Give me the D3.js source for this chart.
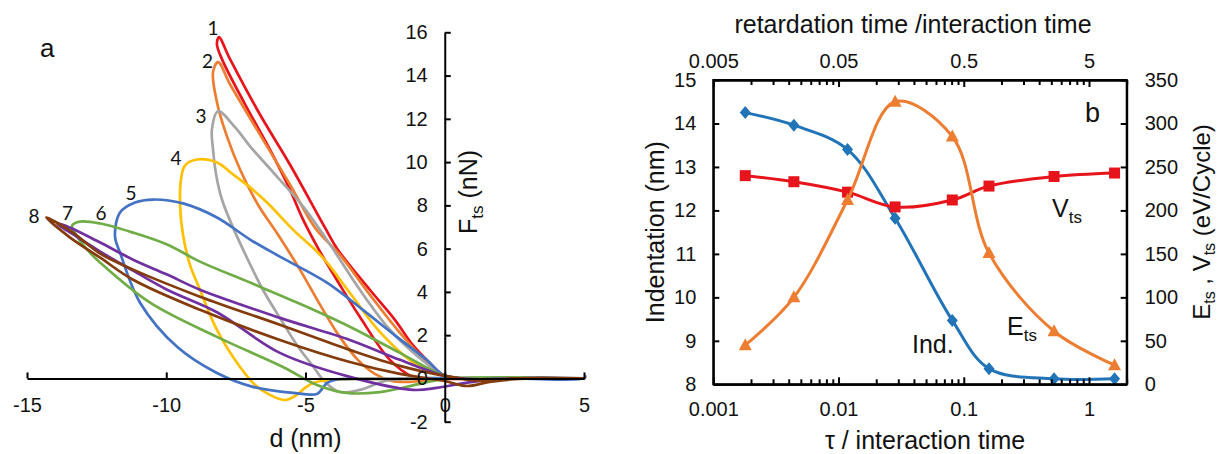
<!DOCTYPE html>
<html>
<head>
<meta charset="utf-8">
<script src="https://cdn.jsdelivr.net/npm/d3@7"></script>
<style>
  body { margin: 0; background: #fff; }
  svg { display: block; }
  text { font-family: "Liberation Sans", Arial, sans-serif; fill: #111; }
  .axis path, .axis line { stroke: #000; stroke-width: 2; }
  .axis text { font-size: 20px; fill: #111; font-family: "Liberation Sans", Arial, sans-serif; }
</style>
</head>
<body>
<svg id="chart" width="1224" height="454"></svg>
<script>
// ---------- Panel a: force vs distance loops, [d (nm), F_ts (nN)] ----------
const loop1 = [[5,0],[2.5,0],[1,-0.03],[0,0.12],[-0.54,0.72],[-1.15,1.55],[-1.79,2.71],[-2.69,4.1],[-3.84,5.95],[-4.3,6.97],[-5.56,9.89],[-6.64,12.21],[-7.71,14.76],[-8.11,15.78],[-8.18,15.45],[-8.0,14.76],[-7.17,12.67],[-6.28,10.59],[-5.56,8.73],[-5.09,7.35],[-4.52,5.95],[-3.77,4.33],[-3.05,2.85],[-1.97,0.86],[-1.15,0.07],[-0.72,-0.07],[0,-0.02],[0.9,-0.02],[5,0]];
const loop2 = [[5,0],[2.5,0],[1,-0.03],[0,0.12],[-0.72,0.86],[-1.61,2.11],[-2.69,3.87],[-3.77,5.72],[-4.66,6.97],[-5.56,8.97],[-6.64,11.28],[-7.71,13.6],[-8.14,14.62],[-8.32,14.16],[-8.18,12.77],[-7.82,11.19],[-7.35,9.66],[-6.71,8.04],[-5.99,6.65],[-5.2,5.03],[-4.48,3.41],[-3.77,1.92],[-3.12,0.86],[-2.51,0.21],[-1.9,-0.12],[-1.26,-0.16],[-0.54,-0.07],[0,-0.02],[0.9,-0.02],[5,0]];
const loop3 = [[5,0],[2.5,0],[1,-0.03],[0,0.12],[-0.9,0.95],[-1.97,2.25],[-3.05,4.1],[-4.12,6.19],[-5.09,7.95],[-6.03,9.34],[-6.99,10.73],[-7.53,11.61],[-8.14,12.35],[-8.36,11.52],[-8.32,10.59],[-8.21,9.43],[-8.0,8.27],[-7.6,6.97],[-7.07,5.49],[-6.53,4.1],[-5.81,2.57],[-5.31,1.55],[-4.77,0.63],[-4.3,-0.16],[-3.77,-0.63],[-3.05,-0.53],[-2.15,-0.12],[-1.08,0.02],[0,0.02],[5,0]];
const loop4 = [[5,0],[2.5,0],[1,-0.03],[0,0.12],[-1.15,0.76],[-2.33,2.15],[-3.41,3.96],[-4.38,5.58],[-5.45,6.88],[-6.38,8.13],[-6.99,8.83],[-7.6,9.43],[-8.18,9.98],[-8.9,10.12],[-9.33,9.84],[-9.47,9.2],[-9.5,7.95],[-9.4,6.65],[-9.15,5.26],[-8.79,4.1],[-8.18,2.25],[-7.35,0.53],[-6.81,-0.3],[-6.28,-0.76],[-5.74,-1.0],[-5.31,-0.76],[-5.02,-0.44],[-4.73,-0.21],[-4.12,-0.07],[-3.05,-0.02],[-1.61,-0.02],[0,0.02],[5,0]];
const loop5 = [[5.05,0.1],[5,0],[2.5,0],[1,-0.03],[0,0.12],[-0.65,0.86],[-1.72,1.92],[-2.94,3.17],[-4.23,4.43],[-5.92,5.63],[-6.99,6.42],[-8.18,7.44],[-9.4,8.09],[-10.47,8.27],[-11.12,8.13],[-11.66,7.67],[-11.84,6.56],[-11.66,5.82],[-10.94,3.5],[-9.61,1.46],[-8.18,0.25],[-6.89,-0.39],[-5.45,-0.67],[-4.59,-0.72],[-4.41,-0.49],[-4.23,-0.21],[-3.95,-0.07],[-3.05,-0.02],[-1.61,-0.02],[0,0.02],[5,0]];
const loop6 = [[5,0],[2.5,0],[1,-0.03],[0,0.12],[-1.61,1.18],[-3.41,2.39],[-5.2,3.45],[-6.99,4.43],[-8.79,5.4],[-9.97,6.19],[-11.19,6.74],[-12.37,7.16],[-13.09,7.25],[-13.38,7.07],[-13.2,6.56],[-12.84,5.95],[-12.37,5.35],[-10.58,3.5],[-8.18,1.92],[-5.81,0.53],[-4.59,-0.3],[-3.52,-0.67],[-2.33,-0.63],[-0.9,-0.25],[0,-0.02],[5,0]];
const loop7 = [[5,0],[2.5,0],[1,-0.03],[0,0.12],[-1.61,0.86],[-3.41,1.78],[-5.92,2.8],[-8.79,4.1],[-9.97,4.8],[-11.19,5.49],[-12.37,6.28],[-13.45,6.97],[-13.92,7.16],[-13.27,6.6],[-12.37,5.86],[-11.19,4.98],[-9.97,4.1],[-8.18,3.06],[-5.92,1.18],[-3.41,0.07],[-1.15,-0.53],[-0.29,-0.44],[0.54,-0.25],[1.61,-0.07],[3.05,0.02],[5,0]];
const loop8 = [[5,0],[2.5,0],[1.2,-0.1],[0,0.12],[-1.61,0.58],[-3.41,1.32],[-5.92,2.48],[-8.79,3.78],[-11.19,5.03],[-12.37,5.77],[-13.45,6.83],[-14.31,7.44],[-13.45,6.51],[-12.37,5.58],[-11.19,4.56],[-8.79,3.17],[-5.92,1.78],[-3.41,0.76],[-1.61,0.21],[0,-0.12],[0.79,-0.35],[1.61,-0.16],[2.69,-0.02],[5,0]];
const loopLabels = ["1", "2", "3", "4", "5", "6", "7", "8"];
const dTicks = [-15, -10, -5, 0, 5];
const fTicks = [-2, 0, 2, 4, 6, 8, 10, 12, 14, 16];

// ---------- Panel b: values vs tau / interaction time ----------
const tauRatio    = [0.0018, 0.0044, 0.0118, 0.0283, 0.081, 0.159, 0.526, 1.6];
const indentation = [14.25, 13.96, 13.4, 11.82, 9.47, 8.36, 8.13, 8.13];
const energyTs    = [45, 100, 212, 325, 285, 151, 61, 22];
const virialTs    = [240, 233, 221, 204, 212, 228, 239, 243];
const tauTicks    = [0.001, 0.01, 0.1, 1];
const retTicks    = [0.005, 0.05, 0.5, 5];
const indTicks    = [8, 9, 10, 11, 12, 13, 14, 15];
const energyTicks = [0, 50, 100, 150, 200, 250, 300, 350];

const svg = d3.select("#chart");
const plain = d => String(d);

// ================= Panel a =================
const loops = [loop1, loop2, loop3, loop4, loop5, loop6, loop7, loop8];
const loopColors = ["#e8141c", "#ed7d31", "#a5a5a5", "#ffc000", "#4472c4", "#70ad47", "#7030a0", "#843c0c"];

const xA = d3.scaleLinear().domain([-15, 5]).range([27, 584]);
const yA = d3.scaleLinear().domain([-2, 16]).range([421.7, 32.3]);

const gA = svg.append("g");

const lineA = d3.line()
  .x(d => xA(d[0]))
  .y(d => yA(d[1]))
  .curve(d3.curveCatmullRom.alpha(0.5));

gA.selectAll("path.loop")
  .data(loops)
  .join("path")
  .attr("class", "loop")
  .attr("d", lineA)
  .attr("fill", "none")
  .attr("stroke", (d, i) => loopColors[i])
  .attr("stroke-width", 2.7)
  .attr("stroke-linejoin", "round")
  .attr("stroke-linecap", "round");

// axes drawn over the loops
gA.append("g").attr("class", "axis")
  .attr("transform", `translate(0,${yA(0)})`)
  .call(d3.axisBottom(xA).tickValues(dTicks).tickSizeInner(-6).tickSizeOuter(0).tickPadding(19).tickFormat(plain));

gA.append("g").attr("class", "axis")
  .attr("transform", `translate(${xA(0)},0)`)
  .call(d3.axisLeft(yA).tickValues(fTicks).tickSizeInner(-6).tickSizeOuter(0).tickPadding(17).tickFormat(plain));

// curve numbers beside each loop
const loopLabelPos = [[213, 35], [207.5, 68], [201, 123], [176, 165], [131, 200], [101, 220], [67.5, 220], [34, 223]];
gA.selectAll("text.num")
  .data(loopLabels)
  .join("text")
  .attr("class", "num")
  .attr("x", (d, i) => loopLabelPos[i][0])
  .attr("y", (d, i) => loopLabelPos[i][1])
  .attr("text-anchor", "middle")
  .style("font-family", "Lato, 'Open Sans', sans-serif")
  .style("font-size", "19px")
  .text(d => d);

gA.append("text").attr("x", 40).attr("y", 57).style("font-size", "26px").text("a");

gA.append("text")
  .attr("x", xA(-5)).attr("y", 447)
  .attr("text-anchor", "middle")
  .style("font-size", "25px")
  .text("d (nm)");

const fLabel = gA.append("text")
  .attr("transform", `translate(477,192) rotate(-90)`)
  .attr("text-anchor", "middle")
  .style("font-size", "25px");
fLabel.append("tspan").text("F");
fLabel.append("tspan").attr("dy", 6).style("font-size", "17px").text("ts");
fLabel.append("tspan").attr("dy", -6).text(" (nN)");

// ================= Panel b =================
const bLeft = 713.3, bRight = 1126.7, bTop = 80, bBottom = 384.3;
const xB = d3.scaleLog().domain([0.001, 2]).range([bLeft, bRight]);
const xTop = d3.scaleLog().domain([0.005, 10]).range([bLeft, bRight]);
const yL = d3.scaleLinear().domain([8, 15]).range([bBottom, bTop]);
const yR = d3.scaleLinear().domain([0, 350]).range([bBottom, bTop]);

const gB = svg.append("g");

function minorTicks(majors, max) {
  const out = [];
  majors.forEach(m => { for (let k = 2; k <= 9; k++) { const v = m * k; if (v <= max * 1.0001) out.push(v); } });
  return out;
}

const rows = tauRatio.map((t, i) => ({ t, ind: indentation[i], e: energyTs[i], v: virialTs[i] }));
const smooth = d3.curveCatmullRom.alpha(0.5);

const series = [
  { key: "ind", color: "#2274b8", y: yL, marker: "diamond" },
  { key: "v",   color: "#e8141c", y: yR, marker: "square" },
  { key: "e",   color: "#ed7d31", y: yR, marker: "triangle" }
];

series.forEach(s => {
  gB.append("path")
    .datum(rows)
    .attr("d", d3.line().x(d => xB(d.t)).y(d => s.y(d[s.key])).curve(smooth))
    .attr("fill", "none")
    .attr("stroke", s.color)
    .attr("stroke-width", 3);

  const sym = s.marker === "diamond" ? "M0,-6.5L5.5,0L0,6.5L-5.5,0Z"
            : s.marker === "square" ? "M-5.5,-5.5H5.5V5.5H-5.5Z"
            : "M0,-7L6.5,5L-6.5,5Z";
  gB.selectAll(null)
    .data(rows)
    .join("path")
    .attr("transform", d => `translate(${xB(d.t)},${s.y(d[s.key])})`)
    .attr("d", sym)
    .attr("fill", s.color);
});

// minor log ticks (no labels)
gB.append("g").attr("class", "axis")
  .attr("transform", `translate(0,${bBottom})`)
  .call(d3.axisBottom(xB).tickValues(minorTicks(tauTicks, 2)).tickSizeInner(-5).tickSizeOuter(0).tickFormat(""));
gB.append("g").attr("class", "axis")
  .attr("transform", `translate(0,${bTop})`)
  .call(d3.axisTop(xTop).tickValues(minorTicks(retTicks, 10)).tickSizeInner(-5).tickSizeOuter(0).tickFormat(""));

// major ticks with labels
gB.append("g").attr("class", "axis")
  .attr("transform", `translate(0,${bBottom})`)
  .call(d3.axisBottom(xB).tickValues(tauTicks).tickSizeInner(-7).tickSizeOuter(0).tickPadding(18).tickFormat(plain));
gB.append("g").attr("class", "axis")
  .attr("transform", `translate(0,${bTop})`)
  .call(d3.axisTop(xTop).tickValues(retTicks).tickSizeInner(-7).tickSizeOuter(0).tickPadding(12).tickFormat(plain));
gB.append("g").attr("class", "axis")
  .attr("transform", `translate(${bLeft},0)`)
  .call(d3.axisLeft(yL).tickValues(indTicks).tickSizeInner(-6).tickSizeOuter(0).tickPadding(17).tickFormat(plain));
gB.append("g").attr("class", "axis")
  .attr("transform", `translate(${bRight},0)`)
  .call(d3.axisRight(yR).tickValues(energyTicks).tickSizeInner(-6).tickSizeOuter(0).tickPadding(18).tickFormat(plain));

// frame
gB.append("rect")
  .attr("x", bLeft).attr("y", bTop)
  .attr("width", bRight - bLeft).attr("height", bBottom - bTop)
  .attr("fill", "none").attr("stroke", "#000").attr("stroke-width", 2);

// series labels
gB.append("text").attr("x", 912).attr("y", 353).style("font-size", "25px").text("Ind.");
const eLab = gB.append("text").attr("x", 1007).attr("y", 335).style("font-size", "25px");
eLab.append("tspan").text("E");
eLab.append("tspan").attr("dy", 6).style("font-size", "17px").text("ts");
const vLab = gB.append("text").attr("x", 1052).attr("y", 217).style("font-size", "25px");
vLab.append("tspan").text("V");
vLab.append("tspan").attr("dy", 6).style("font-size", "17px").text("ts");
gB.append("text").attr("x", 1085).attr("y", 122).style("font-size", "27px").text("b");

// axis titles
gB.append("text")
  .attr("x", (bLeft + bRight) / 2 + 5).attr("y", 449)
  .attr("text-anchor", "middle")
  .style("font-size", "25px")
  .text("\u03c4 / interaction time");
gB.append("text")
  .attr("x", 913).attr("y", 33)
  .attr("text-anchor", "middle")
  .style("font-size", "25px")
  .text("retardation time /interaction time");
gB.append("text")
  .attr("transform", `translate(664,${(bTop + bBottom) / 2}) rotate(-90)`)
  .attr("text-anchor", "middle")
  .style("font-size", "25px")
  .text("Indentation (nm)");
const rLab = gB.append("text")
  .attr("transform", `translate(1210,222) rotate(-90)`)
  .attr("text-anchor", "middle")
  .style("font-size", "24px");
rLab.append("tspan").text("E");
rLab.append("tspan").attr("dy", 5).style("font-size", "16px").text("ts");
rLab.append("tspan").attr("dy", -5).text(" , V");
rLab.append("tspan").attr("dy", 5).style("font-size", "16px").text("ts");
rLab.append("tspan").attr("dy", -5).text(" (eV/Cycle)");
</script>
</body>
</html>
